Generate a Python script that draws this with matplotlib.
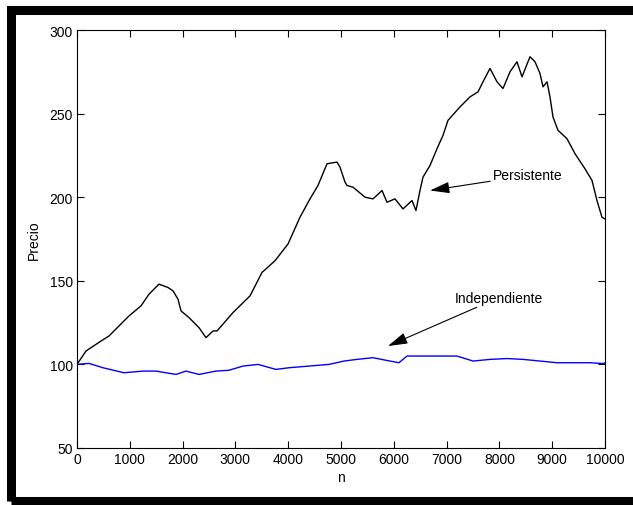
import matplotlib
matplotlib.use("Agg")
import matplotlib.pyplot as plt
from matplotlib.patches import Rectangle

plt.rcParams['font.family'] = ['Liberation Sans', 'DejaVu Sans']

# Persistent (black) series
pers_n = [0, 170, 455, 606, 795, 985, 1212, 1364, 1553, 1723, 1818, 1913, 1970, 2121,
          2310, 2443, 2576, 2652, 2955, 3277, 3504, 3750, 3996, 4223, 4413, 4564, 4735,
          4924, 4981, 5076, 5114, 5227, 5455, 5606, 5777, 5871, 6023, 6174, 6345, 6420,
          6496, 6553, 6686, 6818, 6932, 7027, 7254, 7443, 7595, 7689, 7822, 7955, 8068,
          8201, 8333, 8428, 8580, 8674, 8769, 8826, 8902, 8958, 9015, 9110, 9280, 9432,
          9621, 9754, 9848, 9943, 10000]
pers_v = [100, 108, 114, 117, 123, 129, 135, 142, 148, 146, 144, 139, 132, 128,
          122, 116, 120, 120, 131, 141, 155, 162, 172, 188, 199, 207, 220,
          221, 218, 209, 207, 206, 200, 199, 204, 197, 199, 193, 198, 192,
          204, 212, 219, 229, 237, 246, 254, 260, 263, 269, 277, 269, 265,
          275, 281, 272, 284, 281, 274, 266, 269, 260, 248, 240, 235, 226,
          217, 210, 198, 188, 187]

# Independent (blue) series
ind_n = [0, 227, 492, 890, 1250, 1496, 1875, 2064, 2310, 2633, 2879, 3144, 3428, 3769,
         4015, 4394, 4773, 5057, 5303, 5606, 5928, 6098, 6250, 6553, 6875, 7197, 7500,
         7822, 8144, 8447, 8769, 9091, 9394, 9716, 9962, 10000]
ind_v = [100, 100.6, 98, 95, 96, 96, 94, 96, 94, 96, 96.5, 99, 100, 97,
         98, 99, 100, 102, 103, 104, 102, 101, 105, 105, 105, 105, 102,
         103, 103.5, 103, 102, 101, 101, 101, 100.5, 101]

xticks = [0, 1000, 2000, 3000, 4000, 5000, 6000, 7000, 8000, 9000, 10000]
yticks = [50, 100, 150, 200, 250, 300]

W, H = 633, 506
fig = plt.figure(figsize=(W / 100, H / 100), dpi=100)
ax = fig.add_axes([77 / W, 1 - 449 / H, (605 - 77) / W, (449 - 31) / H])

ax.plot(pers_n, pers_v, color='black', lw=1.0)
ax.plot(ind_n, ind_v, color=(0, 0, 1), lw=1.0)

ax.set_xlim(0, 10000)
ax.set_ylim(50, 300)
ax.set_xticks(xticks)
ax.set_yticks(yticks)
ax.tick_params(direction='in', top=True, right=True, length=5, width=0.8,
               labelsize=10, pad=3)
for s in ax.spines.values():
    s.set_linewidth(0.8)
ax.set_xlabel('n', fontsize=10, labelpad=3)
ax.set_ylabel('Precio', fontsize=10, labelpad=6)

arrowprops = dict(arrowstyle='-|>,head_length=1.2,head_width=0.35', color='black',
                  lw=0.8, shrinkA=0, shrinkB=0)
ax.annotate('Persistente', xy=(6686, 204), xytext=(7880, 213),
            fontsize=10, va='center', ha='left', arrowprops=arrowprops)
ax.annotate('Independiente', xy=(5890, 111), xytext=(7159, 140),
            fontsize=10, va='center', ha='left', arrowprops=arrowprops)

# black frame around the figure
fig.patches.append(Rectangle((10.5 / W, 1 - 502 / H), 640 / W, (502 - 11) / H,
                             transform=fig.transFigure, fill=False,
                             edgecolor='black', linewidth=6.5, zorder=10))

fig.savefig('out.png', dpi=100)
